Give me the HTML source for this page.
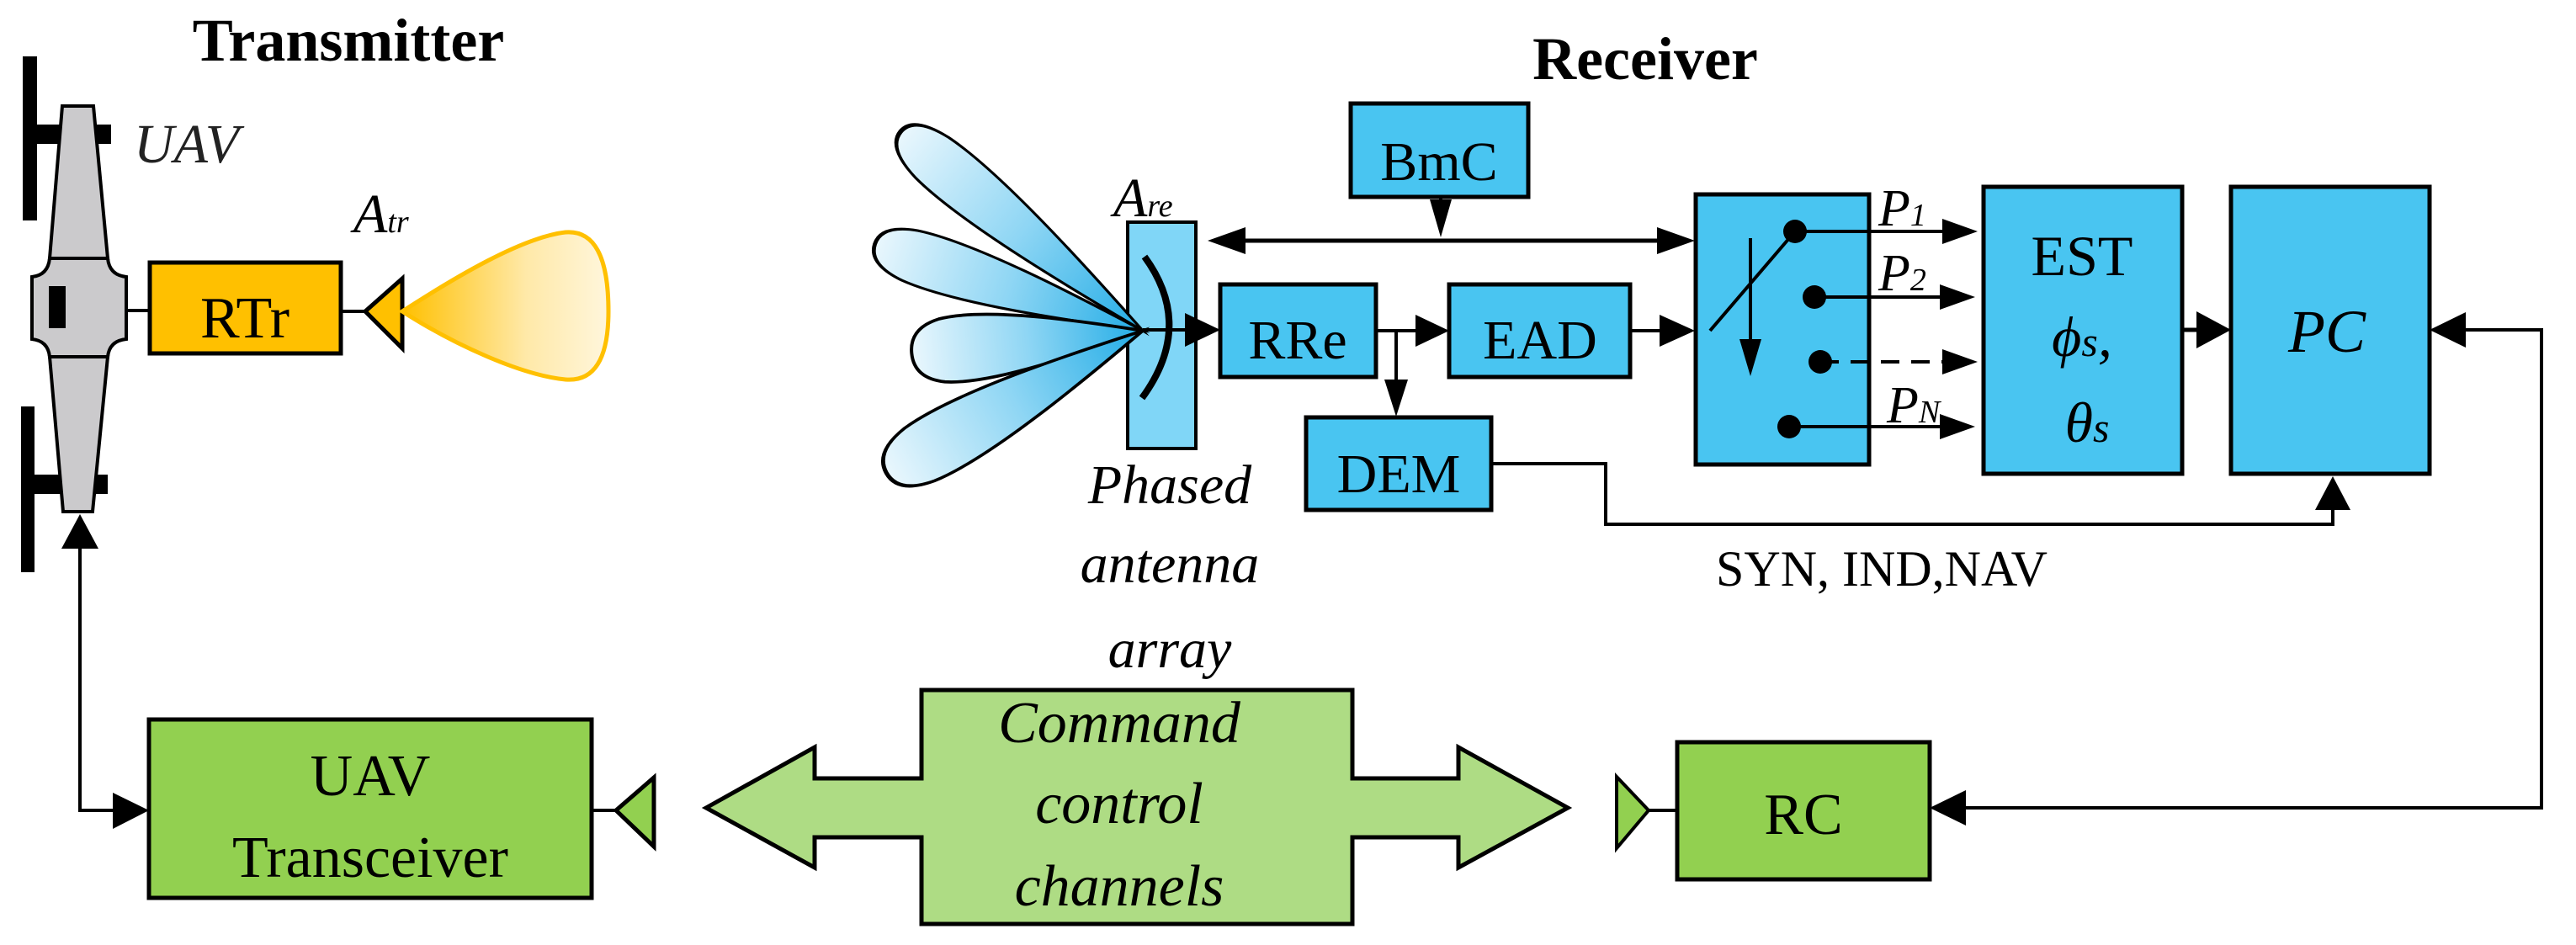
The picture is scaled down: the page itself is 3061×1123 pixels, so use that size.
<!DOCTYPE html>
<html><head><meta charset="utf-8">
<style>html,body{margin:0;padding:0;background:#fff}svg{display:block}</style>
</head><body>
<svg width="3061" height="1123" viewBox="0 0 3061 1123" xmlns="http://www.w3.org/2000/svg" font-family="'Liberation Serif', serif">
<defs>
<linearGradient id="lg" x1="0" y1="0" x2="1" y2="0">
<stop offset="0" stop-color="#22ACE6"/><stop offset="0.5" stop-color="#8FD6F4"/><stop offset="1" stop-color="#EAF7FD"/>
</linearGradient>
<linearGradient id="og" x1="0" y1="0" x2="1" y2="0">
<stop offset="0" stop-color="#FFC000"/><stop offset="0.6" stop-color="#FFE9A8"/><stop offset="1" stop-color="#FFF6DC"/>
</linearGradient>
<path id="lobe" d="M0,0 C90,-25 230,-62 300,-50 Q345,-40 345,0 Q345,40 300,50 C230,62 90,25 0,0 Z"/>
</defs>

<!-- Titles -->
<text x="414" y="72" font-size="72" font-weight="bold" text-anchor="middle">Transmitter</text>
<text x="1955" y="94" font-size="72" font-weight="bold" text-anchor="middle">Receiver</text>

<!-- UAV -->
<rect x="27" y="67" width="17" height="195" fill="#000"/>
<rect x="27" y="148" width="105" height="23" fill="#000"/>
<rect x="25" y="483" width="16" height="197" fill="#000"/>
<rect x="25" y="564" width="103" height="23" fill="#000"/>
<path d="M74,126 L111,126 L128,307 L59,307 Z" fill="#CBCACC" stroke="#000" stroke-width="4"/>
<path d="M59,424 L128,424 L110,608 L75,608 Z" fill="#CBCACC" stroke="#000" stroke-width="4"/>
<path d="M59,307 L128,307 Q130,327 150,329 L150,403 Q130,405 128,424 L59,424 Q57,405 38,403 L38,329 Q57,327 59,307 Z" fill="#CBCACC" stroke="#000" stroke-width="4"/>
<rect x="58" y="340" width="20" height="50" fill="#000"/>
<text x="159" y="193" font-size="66" font-style="italic" fill="#222">UAV</text>
<line x1="150" y1="369" x2="178" y2="369" stroke="#000" stroke-width="4"/>

<!-- RTr -->
<rect x="178" y="312" width="227" height="108" fill="#FFC000" stroke="#000" stroke-width="5"/>
<text x="291" y="401" font-size="70" text-anchor="middle">RTr</text>
<line x1="405" y1="370" x2="434" y2="370" stroke="#000" stroke-width="4"/>
<path d="M434,370 L478,331 L478,414 Z" fill="#FFC000" stroke="#000" stroke-width="5"/>
<path d="M478,370 C540,330 620,282 672,276 Q723,272 723,370 Q723,455 672,451 C620,446 540,410 478,370 Z" fill="url(#og)" stroke="#FFC000" stroke-width="5"/>
<text x="420" y="276" font-size="66" font-style="italic">A<tspan font-size="38">tr</tspan></text>

<!-- UAV feedback arrow -->
<polyline points="95,652 95,963 134,963" fill="none" stroke="#000" stroke-width="4"/>
<path d="M95,611 L73,652 L117,652 Z" fill="#000"/>
<path d="M177,963 L134,942 L134,985 Z" fill="#000"/>

<!-- UAV Transceiver -->
<rect x="177" y="855" width="526" height="212" fill="#92D050" stroke="#000" stroke-width="5"/>
<text x="440" y="945" font-size="70" text-anchor="middle">UAV</text>
<text x="440" y="1042" font-size="70" text-anchor="middle">Transceiver</text>
<line x1="703" y1="963" x2="732" y2="963" stroke="#000" stroke-width="4"/>
<path d="M732,963 L777,924 L777,1006 Z" fill="#92D050" stroke="#000" stroke-width="5"/>

<!-- Command double arrow -->
<path d="M839,960 L968,888 L968,925 L1095,925 L1095,820 L1607,820 L1607,925 L1733,925 L1733,888 L1863,960 L1733,1031 L1733,995 L1607,995 L1607,1098 L1095,1098 L1095,995 L968,995 L968,1031 Z" fill="#AEDC84" stroke="#000" stroke-width="5"/>
<g font-size="70" font-style="italic" text-anchor="middle">
<text x="1330" y="882">Command</text>
<text x="1330" y="978">control</text>
<text x="1330" y="1076">channels</text>
</g>

<!-- RC -->
<path d="M1959,963 L1921,923 L1921,1008 Z" fill="#92D050" stroke="#000" stroke-width="4"/>
<line x1="1959" y1="963" x2="1993" y2="963" stroke="#000" stroke-width="4"/>
<rect x="1993" y="882" width="300" height="163" fill="#92D050" stroke="#000" stroke-width="5"/>
<text x="2143" y="991" font-size="70" text-anchor="middle">RC</text>

<!-- Antenna array -->
<rect x="1340" y="264" width="81" height="269" fill="#80D6F7" stroke="#000" stroke-width="4"/>
<g stroke="#000" stroke-width="5" fill="url(#lg)">
<use href="#lobe" transform="translate(1358,393) rotate(219.4) scale(1.08,0.62)"/>
<use href="#lobe" transform="translate(1358,393) rotate(197.9) scale(0.97,0.62)"/>
<use href="#lobe" transform="translate(1358,393) rotate(174.4) scale(0.8,0.75)"/>
<use href="#lobe" transform="translate(1358,393) rotate(151) scale(1.01,0.72)"/>
</g>
<path d="M1360,305 Q1420,387 1357,473" fill="none" stroke="#000" stroke-width="8"/>
<text x="1323" y="257" font-size="66" font-style="italic">A<tspan font-size="38">re</tspan></text>
<g font-size="66" font-style="italic" text-anchor="middle">
<text x="1390" y="598">Phased</text>
<text x="1390" y="692">antenna</text>
<text x="1390" y="793">array</text>
</g>

<!-- arrows antenna -> RRe -->
<line x1="1358" y1="392" x2="1415" y2="392" stroke="#000" stroke-width="4"/>
<path d="M1450,392 L1408,372 L1408,412 Z" fill="#000"/>

<!-- BmC -->
<rect x="1605" y="123" width="211" height="111" fill="#49C5F1" stroke="#000" stroke-width="5"/>
<text x="1710" y="214" font-size="66" text-anchor="middle">BmC</text>
<line x1="1712" y1="234" x2="1712" y2="250" stroke="#000" stroke-width="4"/>
<path d="M1712,282 L1699,237 L1725,237 Z" fill="#000"/>
<line x1="1470" y1="286" x2="1980" y2="286" stroke="#000" stroke-width="5"/>
<path d="M1435,286 L1480,270 L1480,302 Z" fill="#000"/>
<path d="M2014,286 L1969,270 L1969,302 Z" fill="#000"/>

<!-- RRe, EAD, DEM -->
<rect x="1450" y="338" width="185" height="110" fill="#49C5F1" stroke="#000" stroke-width="5"/>
<text x="1542" y="426" font-size="66" text-anchor="middle">RRe</text>
<line x1="1635" y1="393" x2="1690" y2="393" stroke="#000" stroke-width="4"/>
<path d="M1722,393 L1682,374 L1682,412 Z" fill="#000"/>
<line x1="1659" y1="393" x2="1659" y2="460" stroke="#000" stroke-width="4"/>
<path d="M1659,495 L1645,451 L1673,451 Z" fill="#000"/>
<rect x="1722" y="338" width="215" height="110" fill="#49C5F1" stroke="#000" stroke-width="5"/>
<text x="1830" y="426" font-size="66" text-anchor="middle">EAD</text>
<line x1="1937" y1="393" x2="1980" y2="393" stroke="#000" stroke-width="4"/>
<path d="M2014,393 L1972,374 L1972,412 Z" fill="#000"/>
<rect x="1552" y="496" width="220" height="110" fill="#49C5F1" stroke="#000" stroke-width="5"/>
<text x="1662" y="585" font-size="66" text-anchor="middle">DEM</text>
<polyline points="1772,551 1908,551 1908,623 2772,623 2772,600" fill="none" stroke="#000" stroke-width="4"/>
<path d="M2772,566 L2751,606 L2793,606 Z" fill="#000"/>
<text x="2039" y="696" font-size="60">SYN, IND,NAV</text>

<!-- Switch -->
<rect x="2015" y="231" width="206" height="321" fill="#49C5F1" stroke="#000" stroke-width="5"/>
<line x1="2032" y1="393" x2="2133" y2="275" stroke="#000" stroke-width="4"/>
<line x1="2080" y1="283" x2="2080" y2="410" stroke="#000" stroke-width="4"/>
<path d="M2080,447 L2067,403 L2093,403 Z" fill="#000"/>
<g fill="#000">
<circle cx="2133" cy="275" r="14"/><circle cx="2156" cy="353" r="14"/>
<circle cx="2163" cy="430" r="14"/><circle cx="2126" cy="507" r="14"/>
</g>
<g stroke="#000" stroke-width="4">
<line x1="2133" y1="275" x2="2315" y2="275"/>
<line x1="2156" y1="353" x2="2315" y2="353"/>
<line x1="2163" y1="430" x2="2315" y2="430" stroke-dasharray="22,14"/>
<line x1="2126" y1="507" x2="2315" y2="507"/>
</g>
<g fill="#000">
<path d="M2350,275 L2308,260 L2308,290 Z"/>
<path d="M2347,353 L2305,338 L2305,368 Z"/>
<path d="M2350,430 L2308,415 L2308,445 Z"/>
<path d="M2347,507 L2305,492 L2305,522 Z"/>
</g>
<g font-size="62" font-style="italic">
<text x="2232" y="268">P<tspan font-size="38">1</tspan></text>
<text x="2232" y="345">P<tspan font-size="38">2</tspan></text>
<text x="2242" y="502">P<tspan font-size="38">N</tspan></text>
</g>

<!-- EST -->
<rect x="2357" y="222" width="236" height="341" fill="#49C5F1" stroke="#000" stroke-width="5"/>
<text x="2474" y="327" font-size="68" text-anchor="middle">EST</text>
<text x="2474" y="423" font-size="68" font-style="italic" text-anchor="middle">ϕ<tspan font-size="50">s</tspan>,</text>
<text x="2480" y="525" font-size="68" font-style="italic" text-anchor="middle">θ<tspan font-size="50">s</tspan></text>
<line x1="2593" y1="392" x2="2620" y2="392" stroke="#000" stroke-width="5"/>
<path d="M2651,392 L2610,370 L2610,414 Z" fill="#000"/>

<!-- PC -->
<rect x="2651" y="222" width="236" height="341" fill="#49C5F1" stroke="#000" stroke-width="5"/>
<text x="2765" y="418" font-size="72" font-style="italic" text-anchor="middle">PC</text>
<polyline points="2925,392 3020,392 3020,960 2330,960" fill="none" stroke="#000" stroke-width="4"/>
<path d="M2887,392 L2930,371 L2930,413 Z" fill="#000"/>
<path d="M2293,960 L2336,939 L2336,981 Z" fill="#000"/>
</svg>
</body></html>
